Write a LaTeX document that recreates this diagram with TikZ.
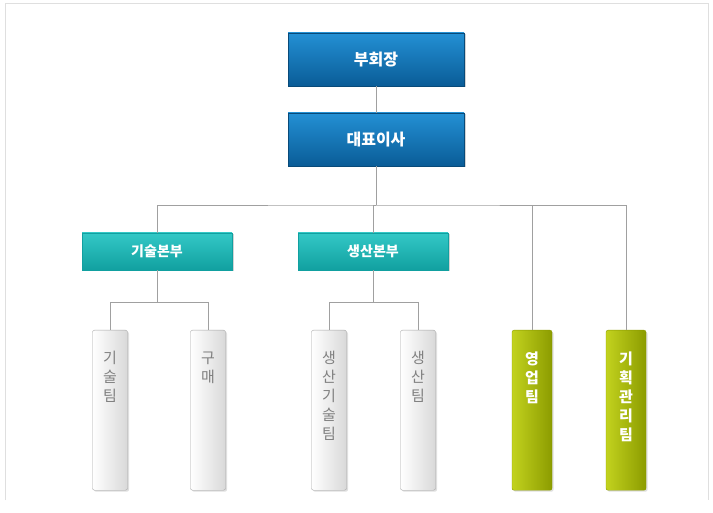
\documentclass[tikz,border=0pt]{standalone}
\usepackage{fontspec}
\newfontfamily\cjk{Noto Sans CJK KR}
\usetikzlibrary{shadows}
\definecolor{topblueA}{HTML}{2390D4}
\definecolor{topblueB}{HTML}{0A5C97}
\definecolor{tealA}{HTML}{33C8C6}
\definecolor{tealB}{HTML}{11A0A0}
\definecolor{oliveA}{HTML}{C2D21E}
\definecolor{oliveB}{HTML}{8C9C00}
\definecolor{linegray}{HTML}{A0A0A0}
\tikzset{
  boss/.style={draw=topblueB!80!black,top color=topblueA,bottom color=topblueB,
    minimum width=176pt,minimum height=53pt,text=white,font=\cjk\bfseries\fontsize{16}{19}\selectfont,
    drop shadow={opacity=0.35,shadow xshift=1.5pt,shadow yshift=-1.5pt}},
  dept/.style={draw=tealB,top color=tealA,bottom color=tealB,
    minimum width=150pt,minimum height=37pt,text=white,font=\cjk\bfseries\fontsize{14}{17}\selectfont,
    drop shadow={opacity=0.35,shadow xshift=1.5pt,shadow yshift=-1.5pt}},
  team/.style={draw=gray!70,rounded corners=2pt,left color=white,right color=gray!30,
    minimum width=35pt,minimum height=160pt,anchor=north,
    drop shadow={opacity=0.25,shadow xshift=1.5pt,shadow yshift=-1.5pt}},
  salesteam/.style={team,draw=oliveB,left color=oliveA,right color=oliveB,minimum width=40pt},
  teamtext/.style={anchor=north,yshift=-18pt,align=center,text=gray,
    font=\cjk\fontsize{15}{19}\selectfont},
  salestext/.style={teamtext,text=white,font=\cjk\bfseries\fontsize{15}{19}\selectfont},
  link/.style={draw=linegray,line width=0.6pt}
}
\begin{document}
\begin{tikzpicture}[x=1pt,y=-1pt]
\useasboundingbox (0,0) rectangle (713,513);
\draw[gray!25] (5,500) -- (5,3) -- (708,3) -- (708,500);
% top levels
\node[boss] (vice) at (376,59.5) {부회장};
\node[boss] (ceo) at (376,139.5) {대표이사};
\node[dept] (tech) at (157,251.5) {기술본부};
\node[dept] (prod) at (373,251.5) {생산본부};
% teams
\node[team] (techteam) at (110,330) {};
\node[team] (buy) at (208,330) {};
\node[team] (prodtech) at (329,330) {};
\node[team] (prodteam) at (418,330) {};
\node[salesteam] (sales) at (532,330) {};
\node[salesteam] (plan) at (626,330) {};
\node[teamtext] (techteamt) at (techteam.north) {기\\술\\팀};
\node[teamtext] (buyt) at (buy.north) {구\\매};
\node[teamtext] (prodtecht) at (prodtech.north) {생\\산\\기\\술\\팀};
\node[teamtext] (prodteamt) at (prodteam.north) {생\\산\\팀};
\node[salestext] (salest) at (sales.north) {영\\업\\팀};
\node[salestext] (plant) at (plan.north) {기\\획\\관\\리\\팀};
% connectors
\coordinate (bus) at (376,205);
\draw[link] (vice) -- (ceo);
\draw[link] (ceo) -- (bus);
\draw[link] (tech.north) |- (bus) -| (plan.north);
\draw[link] (prod.north) |- (bus);
\draw[link] (sales.north) -- (sales.north |- bus);
\draw[link] (tech.south) -- ++(0,32) -| (techteam.north);
\draw[link] (tech.south) ++(0,32) -| (buy.north);
\draw[link] (prod.south) -- ++(0,32) -| (prodtech.north);
\draw[link] (prod.south) ++(0,32) -| (prodteam.north);
\end{tikzpicture}
\end{document}
